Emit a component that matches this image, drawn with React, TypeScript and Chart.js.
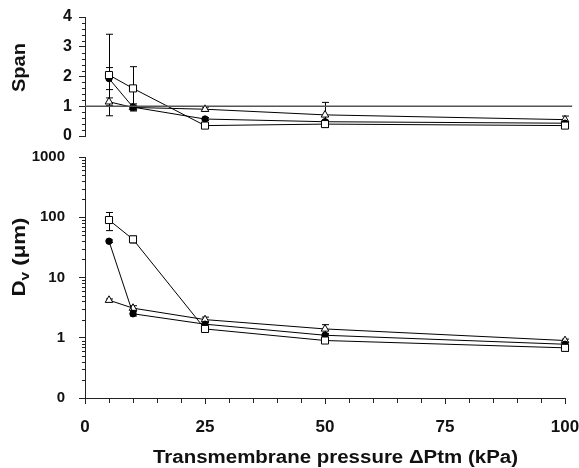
import React, { useEffect, useRef } from 'react';
import { Chart, registerables } from 'chart.js';

Chart.register(...registerables);

const FONT = '"Liberation Sans", Arial, Helvetica, sans-serif';
const INK = '#111';
const AXIS = '#222';

// ---- data ----
const pressure = [5, 10, 25, 50, 100];

const spanSquare = [2.05, 1.6, 0.35, 0.4, 0.35];
const spanSquareErr = [1.37, 0.73, 0.06, 0.05, 0.05];
const spanCircle = [1.93, 0.97, 0.57, 0.48, 0.43];
const spanCircleErr = [0.37, 0.06, 0.05, 0.05, 0.04];
const spanTriangle = [1.15, 0.96, 0.9, 0.71, 0.55];
const spanTriangleErr = [0.13, 0.12, 0.07, 0.42, 0.12];
const spanRefX = [0, 101.5];
const spanRefY = [1, 1];

const dvSquare = [90, 43, 1.4, 0.9, 0.68];
const dvSquareErr = [30, 5.5, 0.15, 0.08, 0.08];
const dvCircle = [40, 2.5, 1.68, 1.1, 0.78];
const dvCircleErr = [2, 0.2, 0.15, 0.08, 0.05];
const dvTriangle = [4.2, 3.1, 2.0, 1.4, 0.9];
const dvTriangleErr = [0.2, 0.3, 0.2, 0.25, 0.05];

const xTicks = [0, 25, 50, 75, 100];
const spanTicks = [0, 1, 2, 3, 4];
const dvTicks = [0.1, 1, 10, 100, 1000];
const dvTickLabels = ['0', '1', '10', '100', '1000'];

const xTitle = 'Transmembrane pressure \u0394Ptm (kPa)';
const spanTitle = 'Span';
const dvTitleParts = ['D', 'v', ' (\u03bcm)'];

// ---- helpers ----
const pts = (ys: number[]) => pressure.map((x, i) => ({ x, y: ys[i] }));

type MarkerKind = 'square' | 'circle' | 'triangle';
const markerStyle = (kind: MarkerKind) => {
  if (kind === 'square') return { pointStyle: 'rect', pointRadius: 5, pointBackgroundColor: '#fff' };
  if (kind === 'circle') return { pointStyle: 'circle', pointRadius: 3.2, pointBackgroundColor: '#000' };
  return { pointStyle: 'triangle', pointRadius: 4.4, pointBackgroundColor: '#fff' };
};

const series = (label: string, ys: number[], errs: number[], kind: MarkerKind) => ({
  label,
  data: pts(ys),
  errors: errs,
  borderColor: '#000',
  borderWidth: 1,
  pointBorderColor: '#000',
  pointBorderWidth: 1,
  showLine: true,
  clip: false,
  ...markerStyle(kind),
});

const errorBarPlugin = {
  id: 'errorBars',
  beforeDatasetsDraw(chart: any) {
    const ctx = chart.ctx;
    ctx.save();
    ctx.strokeStyle = '#000';
    ctx.lineWidth = 1;
    chart.data.datasets.forEach((ds: any, i: number) => {
      if (!ds.errors) return;
      const meta = chart.getDatasetMeta(i);
      const xs = chart.scales[meta.xAxisID];
      const ys = chart.scales[meta.yAxisID];
      ds.data.forEach((p: any, j: number) => {
        const e = ds.errors[j];
        if (!e) return;
        const x = Math.round(xs.getPixelForValue(p.x)) + 0.5;
        const top = ys.getPixelForValue(p.y + e);
        const lowV = p.y - e;
        const bot = ys.getPixelForValue(lowV > 0 ? lowV : ys.min);
        ctx.beginPath();
        ctx.moveTo(x, top);
        ctx.lineTo(x, bot);
        ctx.moveTo(x - 3.5, top);
        ctx.lineTo(x + 3.5, top);
        ctx.moveTo(x - 3.5, bot);
        ctx.lineTo(x + 3.5, bot);
        ctx.stroke();
      });
    });
    ctx.restore();
  },
};

const minorTickPlugin = {
  id: 'minorTicks',
  afterDraw(chart: any, _args: any, opts: any) {
    const ctx = chart.ctx;
    const area = chart.chartArea;
    ctx.save();
    ctx.strokeStyle = AXIS;
    ctx.lineWidth = 1;
    ctx.beginPath();
    (opts.y || []).forEach((v: number) => {
      const y = Math.round(chart.scales.y.getPixelForValue(v)) + 0.5;
      ctx.moveTo(area.left, y);
      ctx.lineTo(area.left - opts.yLen, y);
    });
    (opts.x || []).forEach((v: number) => {
      const x = Math.round(chart.scales.x.getPixelForValue(v)) + 0.5;
      ctx.moveTo(x, area.bottom);
      ctx.lineTo(x, area.bottom + opts.xLen);
    });
    ctx.stroke();
    ctx.restore();
  },
};

const titlePlugin = {
  id: 'titles',
  afterDraw(chart: any, _args: any, opts: any) {
    const ctx = chart.ctx;
    ctx.save();
    ctx.fillStyle = INK;
    ctx.textBaseline = 'alphabetic';
    ctx.textAlign = 'left';
    (opts.items || []).forEach((it: any) => {
      const widths = it.parts.map((p: any) => {
        ctx.font = `bold ${p.size}px ${FONT}`;
        return ctx.measureText(p.text).width;
      });
      const total = widths.reduce((a: number, b: number) => a + b, 0);
      const sx = it.length / total;
      ctx.save();
      ctx.translate(it.x, it.y);
      if (it.rotate) ctx.rotate(-Math.PI / 2);
      ctx.scale(sx, 1);
      let cx = -total / 2;
      it.parts.forEach((p: any, k: number) => {
        ctx.font = `bold ${p.size}px ${FONT}`;
        ctx.fillText(p.text, cx, p.dy || 0);
        cx += widths[k];
      });
      ctx.restore();
    });
    ctx.restore();
  },
};

const tickFont = (size: number) => ({ family: FONT, size, weight: 'bold' as const });

const minorSpan: number[] = [];
for (let i = 1; i < 20; i++) if (i % 5 !== 0) minorSpan.push(i / 5);
const minorDv: number[] = [];
[0.1, 1, 10, 100].forEach((d) => {
  for (let m = 2; m <= 9; m++) minorDv.push(d * m);
});
const minorX: number[] = [];
for (let v = 5; v < 100; v += 5) if (v % 25 !== 0) minorX.push(v);

const noPad = (s: any) => {
  s.paddingTop = 0;
  s.paddingBottom = 0;
  s.paddingLeft = 0;
  s.paddingRight = 0;
};

export default function App() {
  const topRef = useRef<HTMLCanvasElement>(null);
  const botRef = useRef<HTMLCanvasElement>(null);

  useEffect(() => {
    Chart.defaults.font.family = FONT;
    Chart.defaults.color = INK;

    const top = new Chart(topRef.current as HTMLCanvasElement, {
      type: 'scatter',
      data: {
        datasets: [
          {
            label: 'reference',
            data: spanRefX.map((x, i) => ({ x, y: spanRefY[i] })),
            borderColor: '#555',
            borderWidth: 1.5,
            pointRadius: 0,
            showLine: true,
            clip: false,
          } as any,
          series('square', spanSquare, spanSquareErr, 'square'),
          series('circle', spanCircle, spanCircleErr, 'circle'),
          series('triangle', spanTriangle, spanTriangleErr, 'triangle'),
        ],
      },
      options: {
        animation: false,
        responsive: false,
        maintainAspectRatio: false,
        layout: { padding: { top: 17, right: 14, bottom: 10, left: 0 } },
        plugins: {
          legend: { display: false },
          tooltip: { enabled: false },
          minorTicks: { y: minorSpan, yLen: 3 },
          titles: {
            items: [
              { parts: [{ text: spanTitle, size: 18 }], x: 24.5, y: 67.5, rotate: true, length: 49 },
            ],
          },
        } as any,
        scales: {
          x: { type: 'linear', min: 0, max: 100, display: false },
          y: {
            type: 'linear',
            min: 0,
            max: 4,
            afterFit: (s: any) => { s.width = 85; noPad(s); },
            afterBuildTicks: (s: any) => { s.ticks = spanTicks.map((v) => ({ value: v })); },
            ticks: { padding: 7, font: tickFont(16), color: INK },
            grid: { drawOnChartArea: false, tickLength: 6, color: AXIS },
            border: { display: true, color: AXIS, width: 1 },
          },
        },
      } as any,
      plugins: [errorBarPlugin, minorTickPlugin, titlePlugin],
    });

    const bot = new Chart(botRef.current as HTMLCanvasElement, {
      type: 'scatter',
      data: {
        datasets: [
          series('square', dvSquare, dvSquareErr, 'square'),
          series('circle', dvCircle, dvCircleErr, 'circle'),
          series('triangle', dvTriangle, dvTriangleErr, 'triangle'),
        ],
      },
      options: {
        animation: false,
        responsive: false,
        maintainAspectRatio: false,
        layout: { padding: { top: 11, right: 14, bottom: 0, left: 0 } },
        plugins: {
          legend: { display: false },
          tooltip: { enabled: false },
          minorTicks: { y: minorDv, yLen: 3, x: minorX, xLen: 5 },
          titles: {
            items: [
              { parts: [{ text: xTitle, size: 18 }], x: 335.5, y: 317.3, rotate: false, length: 365 },
              {
                parts: [
                  { text: dvTitleParts[0], size: 19 },
                  { text: dvTitleParts[1], size: 13, dy: 4 },
                  { text: dvTitleParts[2], size: 19 },
                ],
                x: 25,
                y: 257 - 146,
                rotate: true,
                length: 79,
              },
            ],
          },
        } as any,
        scales: {
          x: {
            type: 'linear',
            min: 0,
            max: 100,
            afterFit: (s: any) => { s.height = 70; noPad(s); },
            afterBuildTicks: (s: any) => { s.ticks = xTicks.map((v) => ({ value: v })); },
            ticks: { padding: 13, font: tickFont(17), color: INK, autoSkip: false, maxRotation: 0 },
            grid: { drawOnChartArea: false, tickLength: 6, color: AXIS },
            border: { display: true, color: AXIS, width: 1 },
          },
          y: {
            type: 'logarithmic',
            min: 0.1,
            max: 1000,
            afterFit: (s: any) => { s.width = 85; noPad(s); },
            afterBuildTicks: (s: any) => { s.ticks = dvTicks.map((v) => ({ value: v })); },
            ticks: {
              padding: 14,
              font: tickFont(15),
              color: INK,
              autoSkip: false,
              callback: (_v: any, i: number) => dvTickLabels[i],
            },
            grid: { drawOnChartArea: false, tickLength: 6, color: AXIS },
            border: { display: true, color: AXIS, width: 1 },
          },
        },
      } as any,
      plugins: [errorBarPlugin, minorTickPlugin, titlePlugin],
    });

    return () => {
      top.destroy();
      bot.destroy();
    };
  }, []);

  return (
    <div style={{ position: 'fixed', left: 0, top: 0, width: 579, height: 468, background: '#fff' }}>
      <canvas ref={topRef} width={579} height={146} style={{ position: 'absolute', left: 0, top: 0 }} />
      <canvas ref={botRef} width={579} height={322} style={{ position: 'absolute', left: 0, top: 146 }} />
    </div>
  );
}
